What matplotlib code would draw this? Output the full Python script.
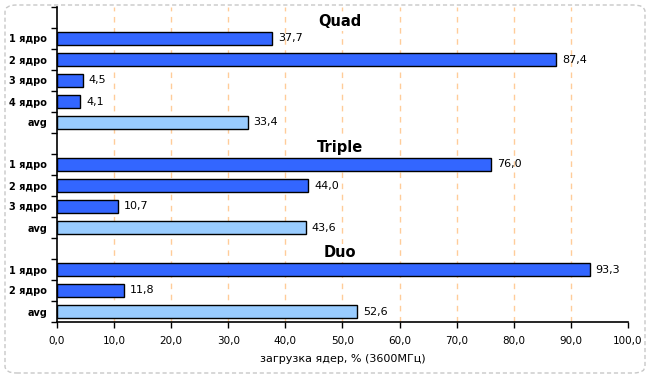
import matplotlib
matplotlib.use("Agg")
import matplotlib.pyplot as plt
from matplotlib.patches import FancyBboxPatch
import numpy as np

groups = ["Quad", "Triple", "Duo"]
quad_labels = ["1 ядро", "2 ядро", "3 ядро", "4 ядро", "avg"]
quad_values = [37.7, 87.4, 4.5, 4.1, 33.4]
triple_labels = ["1 ядро", "2 ядро", "3 ядро", "avg"]
triple_values = [76.0, 44.0, 10.7, 43.6]
duo_labels = ["1 ядро", "2 ядро", "avg"]
duo_values = [93.3, 11.8, 52.6]
x_ticks = [0, 10, 20, 30, 40, 50, 60, 70, 80, 90, 100]
x_label = "загрузка ядер, % (3600МГц)"

core_color = "#3366FF"
avg_color = "#99CCFF"

fig = plt.figure(figsize=(6.49, 3.77), dpi=100)
ax = fig.add_axes([57/649, 1-322/377, (628-57)/649, (322-7)/377])

rows_labels = []
rows_values = []
title_rows = []
for g, labs, vals in [(groups[0], quad_labels, quad_values),
                      (groups[1], triple_labels, triple_values),
                      (groups[2], duo_labels, duo_values)]:
    title_rows.append((len(rows_labels), g))
    rows_labels.append("")
    rows_values.append(None)
    rows_labels.extend(labs)
    rows_values.extend(vals)

n = len(rows_labels)
for i, (lab, v) in enumerate(zip(rows_labels, rows_values)):
    if v is None:
        continue
    c = avg_color if lab == "avg" else core_color
    ax.barh(i, v, height=0.62, color=c, edgecolor="black", linewidth=1, zorder=3)
    ax.text(v + 1.0, i, f"{v:.1f}".replace(".", ","), va="center", ha="left",
            fontsize=8, zorder=4)

for r, g in title_rows:
    ax.text(49.5, r + 0.2, g, ha="center", va="center", fontsize=10.5,
            fontweight="bold", zorder=5,
            bbox=dict(facecolor="white", edgecolor="none", pad=1))

ax.set_ylim(n - 0.5, -0.5)
ax.set_xlim(0, 100)
ax.set_yticks(range(n))
ax.set_yticklabels(rows_labels, fontsize=7, fontweight="bold")
ax.tick_params(axis="y", which="major", length=0, pad=7)
ax.set_yticks(np.arange(-0.5, n, 1.0), minor=True)
ax.tick_params(axis="y", which="minor", length=4, width=1, direction="out")
ax.set_xticks(x_ticks)
ax.set_xticklabels([f"{t:.1f}".replace(".", ",") for t in x_ticks], fontsize=7.5)
ax.tick_params(axis="x", length=4, width=1, direction="out", pad=6)
ax.set_xlabel(x_label, fontsize=8, labelpad=6)

for t in x_ticks[1:-1]:
    ax.axvline(t, color="#FFCC99", linestyle=(0, (4, 4)), linewidth=1, zorder=1)

for s in ["top", "right"]:
    ax.spines[s].set_visible(False)
ax.spines["left"].set_linewidth(1.2)
ax.spines["bottom"].set_linewidth(1.2)

border = FancyBboxPatch((5/649, 4/377), 640/649, 368/377,
                        boxstyle="round,pad=0,rounding_size=0.018",
                        transform=fig.transFigure, fill=False,
                        edgecolor="#C8C8C8", linestyle=(0, (3, 2)), linewidth=1)
fig.patches.append(border)

fig.savefig("out.png", dpi=100)
